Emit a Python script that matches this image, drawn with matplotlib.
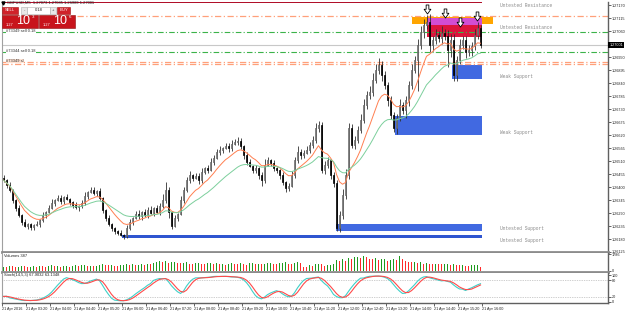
"""
MT4-style GBPUSD M5 chart: candles with two EMAs, supply/demand zones,
order lines, a volumes window and a stochastic window.

Writes out.png (625x312).
"""

import matplotlib
matplotlib.use("Agg")
import matplotlib.pyplot as plt
import numpy as np
import pandas as pd
from matplotlib.patches import Rectangle
from matplotlib.path import Path

FIG_W, FIG_H = 625, 312
OUT_PATH = "out.png"

SYMBOL = "GBPUSD,M5"
FIRST_OPEN = 1.26440
PIP = 0.0001
UI_FONT = "Liberation Sans"

# ---------------------------------------------------------------------------
# Data
# ---------------------------------------------------------------------------

closes = [
    1.26429, 1.26408, 1.26387, 1.26345, 1.26311, 1.26281, 1.26252, 1.26235, 1.26243, 1.26231,
    1.26239, 1.26243, 1.26260, 1.26281, 1.26294, 1.26311, 1.26332, 1.26345, 1.26353, 1.26341,
    1.26357, 1.26349, 1.26336, 1.26324, 1.26315, 1.26319, 1.26332, 1.26362, 1.26379, 1.26387,
    1.26374, 1.26383, 1.26353, 1.26302, 1.26269, 1.26243, 1.26226, 1.26214, 1.26205, 1.26197,
    1.26192, 1.26226, 1.26252, 1.26269, 1.26286, 1.26277, 1.26294, 1.26281, 1.26302, 1.26290,
    1.26311, 1.26294, 1.26319, 1.26345, 1.26387, 1.26294, 1.26235, 1.26269, 1.26286, 1.26345,
    1.26387, 1.26429, 1.26451, 1.26438, 1.26446, 1.26429, 1.26463, 1.26480, 1.26472, 1.26506,
    1.26523, 1.26548, 1.26556, 1.26565, 1.26573, 1.26565, 1.26582, 1.26590, 1.26594, 1.26573,
    1.26535, 1.26506, 1.26489, 1.26472, 1.26480, 1.26451, 1.26429, 1.26493, 1.26514, 1.26501,
    1.26480, 1.26472, 1.26451, 1.26421, 1.26396, 1.26404, 1.26451, 1.26514, 1.26548, 1.26535,
    1.26544, 1.26556, 1.26578, 1.26599, 1.26649, 1.26662, 1.26472, 1.26493, 1.26514, 1.26451,
    1.26417, 1.26226, 1.26281, 1.26366, 1.26451, 1.26649, 1.26578, 1.26599, 1.26641, 1.26683,
    1.26747, 1.26789, 1.26802, 1.26853, 1.26895, 1.26916, 1.26874, 1.26831, 1.26768, 1.26704,
    1.26649, 1.26692, 1.26747, 1.26726, 1.26768, 1.26831, 1.26895, 1.26937, 1.27001, 1.27056,
    1.27085, 1.27098, 1.27001, 1.27022, 1.27043, 1.27030, 1.27051, 1.27039, 1.26979, 1.27022,
    1.26874, 1.26937, 1.27001, 1.27022, 1.26971, 1.26979, 1.26996, 1.27043, 1.27073, 1.27001,
]

upper_wick_pips = [
    2, 1, 2, 1, 1, 2, 1, 2, 1, 1,   1, 2, 1, 2, 1, 2, 3, 1, 2, 2,
    1, 2, 1, 1, 2, 1, 2, 3, 1, 2,   2, 1, 2, 1, 1, 2, 1, 1, 1, 2,
    1, 2, 2, 1, 2, 3, 1, 2, 2, 3,   1, 2, 2, 4, 6, 2, 1, 2, 1, 3,
    2, 2, 3, 1, 2, 2, 3, 1, 2, 3,   2, 2, 3, 1, 2, 2, 3, 2, 3, 2,
    1, 2, 2, 1, 2, 1, 2, 4, 2, 1,   2, 1, 1, 2, 1, 2, 3, 2, 4, 2,
    2, 3, 2, 3, 4, 3, 2, 3, 2, 1,   2, 2, 3, 4, 4, 4, 3, 3, 3, 4,
    4, 3, 4, 5, 4, 5, 3, 3, 2, 3,   2, 3, 4, 2, 3, 3, 4, 3, 4, 4,
    4, 5, 6, 3, 4, 3, 5, 3, 4, 4,   4, 3, 4, 3, 3, 4, 3, 4, 4, 2,
]

lower_wick_pips = [
    1, 2, 1, 2, 2, 1, 2, 1, 2, 2,   2, 1, 2, 1, 2, 1, 1, 2, 1, 2,
    2, 1, 2, 2, 1, 3, 1, 1, 2, 1,   1, 2, 1, 2, 2, 1, 2, 2, 1, 1,
    2, 1, 1, 2, 1, 2, 3, 1, 2, 1,   2, 1, 2, 1, 2, 4, 2, 1, 2, 1,
    2, 1, 2, 2, 1, 3, 2, 1, 2, 1,   2, 1, 2, 2, 1, 3, 2, 1, 2, 2,
    3, 2, 1, 2, 2, 3, 4, 2, 1, 2,   2, 2, 3, 2, 3, 2, 1, 2, 2, 3,
    2, 1, 2, 2, 2, 3, 2, 3, 2, 3,   3, 2, 3, 3, 3, 3, 2, 3, 2, 2,
    2, 3, 3, 3, 2, 3, 4, 3, 4, 3,   3, 4, 2, 3, 6, 4, 3, 2, 22, 3,
    4, 3, 5, 4, 3, 3, 4, 3, 12, 5,  4, 4, 3, 3, 4, 3, 4, 3, 3, 2,
]

volumes = [
    420, 380, 510, 460, 390, 450, 520, 480, 360, 400,
    470, 430, 550, 500, 420, 560, 610, 480, 520, 450,
    490, 540, 430, 470, 600, 520, 580, 640, 500, 560,
    470, 520, 610, 700, 650, 580, 620, 540, 480, 590,
    660, 720, 610, 680, 570, 640, 700, 620, 760, 690,
    830, 980, 1020, 930, 1050, 880, 960, 1010, 870, 790,
    850, 920, 760, 700, 820, 880, 740, 690, 800, 860,
    760, 820, 700, 780, 650, 720, 840, 760, 690, 800,
    720, 660, 790, 850, 700, 760, 680, 730, 820, 880,
    760, 690, 800, 860, 920, 780, 700, 850, 930, 810,
    420, 360, 620, 560, 680, 760, 700, 540, 580, 650,
    720, 1150, 1020, 1240, 1100, 1380, 1260, 1480, 1560, 1420,
    1600, 1540, 1320, 1280, 1450, 1180, 1260, 1340, 1080, 1220,
    1260, 1140, 1580, 1280, 1020, 990, 950, 1000, 860, 920,
    780, 820, 760, 690, 750, 720, 680, 740, 760, 620,
    700, 660, 580, 620, 560, 540, 600, 640, 660, 387,
]

price_ticks = [
    1.27170, 1.27115, 1.27060, 1.27005, 1.26950, 1.26895, 1.26840, 1.26785,
    1.26730, 1.26675, 1.26620, 1.26565, 1.26510, 1.26455, 1.26400, 1.26345,
    1.26290, 1.26235, 1.26180, 1.26125,
]

time_tick_bars = [0, 8, 16, 24, 32, 40, 48, 56, 64, 72, 80,
                  88, 96, 104, 112, 120, 128, 136, 144, 152, 160]
time_tick_labels = [
    "21 Apr 2016", "21 Apr 03:20", "21 Apr 04:00", "21 Apr 04:40", "21 Apr 05:20",
    "21 Apr 06:00", "21 Apr 06:40", "21 Apr 07:20", "21 Apr 08:00", "21 Apr 08:40",
    "21 Apr 09:20", "21 Apr 10:00", "21 Apr 10:40", "21 Apr 11:20", "21 Apr 12:00",
    "21 Apr 12:40", "21 Apr 13:20", "21 Apr 14:00", "21 Apr 14:40", "21 Apr 15:20",
    "21 Apr 16:00",
]

# zones: label, first bar, last bar, low, high, colour, where the label sits
zone_labels = ["", "Untested Resistance", "", "Untested Resistance", "Weak Support",
               "Weak Support", "Untested Support", "Untested Support"]
zone_start = [136.2, 141.2, 141.2, -0.5, 149.5, 130.5, 110.8, 39.5]
zone_end = [163.2, 159.5, 159.5, 159.5, 159.5, 159.5, 159.5, 159.5]
zone_low = [1.27089, 1.27034, 1.27085, 1.27177, 1.26857, 1.26620, 1.26214, 1.26183]
zone_high = [1.27119, 1.27115, 1.27115, 1.27230, 1.26916, 1.26700, 1.26243, 1.26196]
zone_colors = ["#FFA500", "#DC143C", "#D24DD2", "#B0102A", "#4169E1", "#4169E1",
               "#4169E1", "#2F55D0"]
zone_label_pos = ["", "mid", "", "below", "above", "above", "above", "below"]

arrow_bars = [141.2, 147.2, 152.2, 157.8]
arrow_prices = [1.27153, 1.27136, 1.27098, 1.27123]

entry_levels = [1.27056, 1.26971]
entry_labels = ["#73349 sell 0.18", "#73344 sell 0.18"]
stop_levels = [1.27123, 1.26929, 1.26920]
stop_label = "#73349 sl"

LOT = "0.18"
BID_TAIL, ASK_TAIL = "3", "6"

# hollow down-arrow marker (Wingdings-style)
ARROW_MARKER = Path([(-0.3, 1.0), (0.3, 1.0), (0.3, 0.05), (0.75, 0.05),
                     (0.0, -1.0), (-0.75, 0.05), (-0.3, 0.05), (-0.3, 1.0)],
                    [Path.MOVETO] + [Path.LINETO] * 6 + [Path.CLOSEPOLY])


# ---------------------------------------------------------------------------
# Helpers
# ---------------------------------------------------------------------------

def px_axes(fig, left, top, right, bottom):
    return fig.add_axes([left / FIG_W, 1 - bottom / FIG_H,
                         (right - left) / FIG_W, (bottom - top) / FIG_H])


def style_panel(ax, sep_width=2.0):
    ax.set_xlim(-0.5, 201.5)
    ax.set_facecolor("white")
    ax.spines["top"].set_visible(False)
    ax.spines["left"].set_color("#A0A0A0")
    ax.spines["left"].set_linewidth(0.8)
    ax.spines["right"].set_color("#606060")
    ax.spines["right"].set_linewidth(1.0)
    ax.spines["bottom"].set_color("#8C8C8C")
    ax.spines["bottom"].set_linewidth(sep_width)
    ax.yaxis.tick_right()
    ax.tick_params(axis="y", direction="out", length=2, width=0.5,
                   labelsize=2.7, pad=0.8, colors="#202020")
    ax.set_xticks([])


def stochastic(high, low, close, k_period=14, slowing=5, d_period=3):
    hh = high.rolling(k_period, min_periods=1).max()
    ll = low.rolling(k_period, min_periods=1).min()
    num = (close - ll).rolling(slowing, min_periods=1).sum()
    den = (hh - ll).rolling(slowing, min_periods=1).sum()
    k = (100 * num / den.replace(0, np.nan)).fillna(50)
    d = k.rolling(d_period, min_periods=1).mean()
    return k, d


# ---------------------------------------------------------------------------
# Build series
# ---------------------------------------------------------------------------

plt.rcParams["font.family"] = [UI_FONT, "DejaVu Sans"]

c = np.array(closes)
o = np.r_[FIRST_OPEN, c[:-1]]
h = np.maximum(o, c) + np.array(upper_wick_pips) * PIP * 0.6
l = np.minimum(o, c) - np.array(lower_wick_pips) * PIP * 0.6
x = np.arange(len(c))

ema_fast = pd.Series(c).ewm(span=10).mean()
ema_slow = pd.Series(c).ewm(span=24).mean()
stoch_k, stoch_d = stochastic(pd.Series(h), pd.Series(l), pd.Series(c))

vol = np.array(volumes)
vol_up = np.r_[True, vol[1:] > vol[:-1]]

fig = plt.figure(figsize=(FIG_W / 100, FIG_H / 100), dpi=100)
fig.patch.set_facecolor("white")

# ---------------------------------------------------------------------------
# Main price window
# ---------------------------------------------------------------------------

ax = px_axes(fig, 2, 2, 608, 252)
style_panel(ax)
ax.set_ylim(1.26125, 1.27183)
ax.set_yticks(price_ticks)
# the live-price box hides the grid label it sits on, as in the terminal
ax.set_yticklabels(["" if abs(p - c[-1]) < 0.00015 else f"{p:.5f}" for p in price_ticks])

for x0, x1, lo, hi, col in zip(zone_start, zone_end, zone_low, zone_high, zone_colors):
    ax.add_patch(Rectangle((x0, lo), x1 - x0, hi - lo, facecolor=col,
                           edgecolor="none", zorder=1))

for lbl, lo, hi, pos in zip(zone_labels, zone_low, zone_high, zone_label_pos):
    if not lbl:
        continue
    y, va = {"mid": ((lo + hi) / 2, "center"),
             "below": (lo, "top"),
             "above": (lo, "bottom")}[pos]
    ax.text(165.5, y, lbl, fontsize=3.3, family="Liberation Mono", color="#8A8A8A",
            va=va, ha="left", zorder=6)

dashdot = (0, (5, 2, 1, 2))
for lvl in stop_levels:
    ax.axhline(lvl, color="#FFA07A", lw=0.9, ls=dashdot, zorder=1.5)
for lvl in entry_levels:
    ax.axhline(lvl, color="#3CB34A", lw=0.8, ls=dashdot, zorder=1.5)
ax.axhline(c[-1], color="#C8C8C8", lw=0.8, zorder=1.4)

for lvl, txt in zip(entry_levels, entry_labels):
    ax.text(1, lvl + 0.00003, txt, fontsize=2.9, color="#303030", va="center",
            ha="left", zorder=6,
            bbox=dict(facecolor="white", edgecolor="none", pad=0.3))
ax.text(1, stop_levels[1] + 0.00004, stop_label, fontsize=2.9, color="#303030",
        va="center", ha="left", zorder=6,
        bbox=dict(facecolor="#FFE2D2", edgecolor="none", pad=0.3))

# candles
ax.vlines(x, l, h, color="#303030", lw=0.6, zorder=3)
bull = c >= o
body_lo = np.minimum(o, c)
body_h = np.maximum(np.abs(c - o), 0.00002)
ax.bar(x[bull], body_h[bull], bottom=body_lo[bull], width=0.62,
       facecolor="white", edgecolor="#505050", lw=0.5, zorder=3.2)
ax.bar(x[~bull], body_h[~bull], bottom=body_lo[~bull], width=0.62,
       facecolor="black", edgecolor="black", lw=0.5, zorder=3.2)

ax.plot(x, ema_fast, color="#FF7F50", lw=0.7, zorder=4)
ax.plot(x, ema_slow, color="#7CCF9C", lw=0.7, zorder=4)

ax.plot(arrow_bars, arrow_prices, ls="none", marker=ARROW_MARKER, ms=6.5,
        markerfacecolor="white", markeredgecolor="black", mew=0.6, zorder=6,
        clip_on=False)

ax.text(1.002, c[-1], f"{c[-1]:.5f}", transform=ax.get_yaxis_transform(),
        fontsize=2.7, color="white", va="center", ha="left", zorder=10,
        bbox=dict(facecolor="black", edgecolor="none", pad=0.5))

# ---------------------------------------------------------------------------
# Volumes window
# ---------------------------------------------------------------------------

axv = px_axes(fig, 2, 253, 608, 272)
style_panel(axv)
axv.set_ylim(-150, 1950)
axv.bar(x, vol, width=0.5, color=np.where(vol_up, "#1E9A1E", "#FF2A2A"), zorder=2)
axv.set_yticks([0, 1786])
axv.set_yticklabels(["0", "1786"])
axv.text(0.3, 1850, f"Volumes {vol[-1]}", fontsize=2.9, color="#202020",
         va="top", ha="left")

# ---------------------------------------------------------------------------
# Stochastic window
# ---------------------------------------------------------------------------

axs = px_axes(fig, 2, 273, 608, 303)
style_panel(axs, sep_width=1.0)
axs.spines["bottom"].set_color("#606060")
axs.set_ylim(-3.8, 107.7)
axs.set_yticks([0, 20, 80, 100])
axs.set_yticklabels(["0", "20", "80", "100"])
for lvl in (20, 80):
    axs.axhline(lvl, color="#A0A0A0", lw=0.5, ls=(0, (1, 1.5)))
axs.plot(x, stoch_k, color="#40D0C8", lw=0.8)
axs.plot(x, stoch_d, color="#FF4A4A", lw=0.8)
axs.text(0.3, 106, f"Stoch(14,5,3) {stoch_k.iloc[-1]:.4f} {stoch_d.iloc[-1]:.4f}",
         fontsize=2.9, color="#202020", va="top", ha="left")

axs.set_xticks(np.array(time_tick_bars) - 0.5)
axs.set_xticklabels(time_tick_labels)
axs.tick_params(axis="x", direction="out", length=2, width=0.5,
                labelsize=2.7, pad=1, colors="#202020")
for t in axs.get_xticklabels():
    t.set_ha("left")

# ---------------------------------------------------------------------------
# Header and one-click trading panel (pixel overlay)
# ---------------------------------------------------------------------------

ov = fig.add_axes([0, 0, 1, 1], zorder=20)
ov.set_xlim(0, FIG_W)
ov.set_ylim(FIG_H, 0)
ov.axis("off")
ov.patch.set_visible(False)

ov.plot([3.3], [2.6], marker="v", ms=2.2, color="black")
ov.text(7, 2.8, f"{SYMBOL}  {o[-1]:.5f} {h[-1]:.5f} {l[-1]:.5f} {c[-1]:.5f}",
        fontsize=2.9, color="#202020", va="center", ha="left")

red = "#D0222A"
ov.add_patch(Rectangle((2, 6.5), 16, 7, facecolor=red, edgecolor="#A01010", lw=0.4))
ov.text(10, 10, "SELL", fontsize=3.0, color="white", ha="center", va="center")
ov.add_patch(Rectangle((21, 6.5), 6, 7, facecolor="#E8E8E8", edgecolor="#B0B0B0", lw=0.4))
ov.text(24, 10, "-", fontsize=3.0, color="#404040", ha="center", va="center")
ov.add_patch(Rectangle((27, 6.5), 23, 7, facecolor="white", edgecolor="#B0B0B0", lw=0.4))
ov.text(38.5, 10, LOT, fontsize=3.0, color="#202020", ha="center", va="center")
ov.add_patch(Rectangle((50, 6.5), 6, 7, facecolor="#E8E8E8", edgecolor="#B0B0B0", lw=0.4))
ov.text(53, 10, "+", fontsize=3.0, color="#404040", ha="center", va="center")
ov.add_patch(Rectangle((57, 6.5), 13, 7, facecolor=red, edgecolor="#A01010", lw=0.4))
ov.text(63.5, 10, "BUY", fontsize=3.0, color="white", ha="center", va="center")

for x0, tail in ((2, BID_TAIL), (39, ASK_TAIL)):
    ov.add_patch(Rectangle((x0, 14.5), 36, 13.5, facecolor="#C8141C",
                           edgecolor="#901010", lw=0.4))
    ov.text(x0 + 4, 24.5, "1.27", fontsize=2.8, color="white", ha="left", va="center")
    ov.text(x0 + 14, 21.5, "10", fontsize=9, color="white", ha="left", va="center")
    ov.text(x0 + 29.5, 16.8, tail, fontsize=3.2, color="white", ha="left", va="center")

fig.savefig(OUT_PATH, dpi=100, facecolor="white")
plt.close(fig)
